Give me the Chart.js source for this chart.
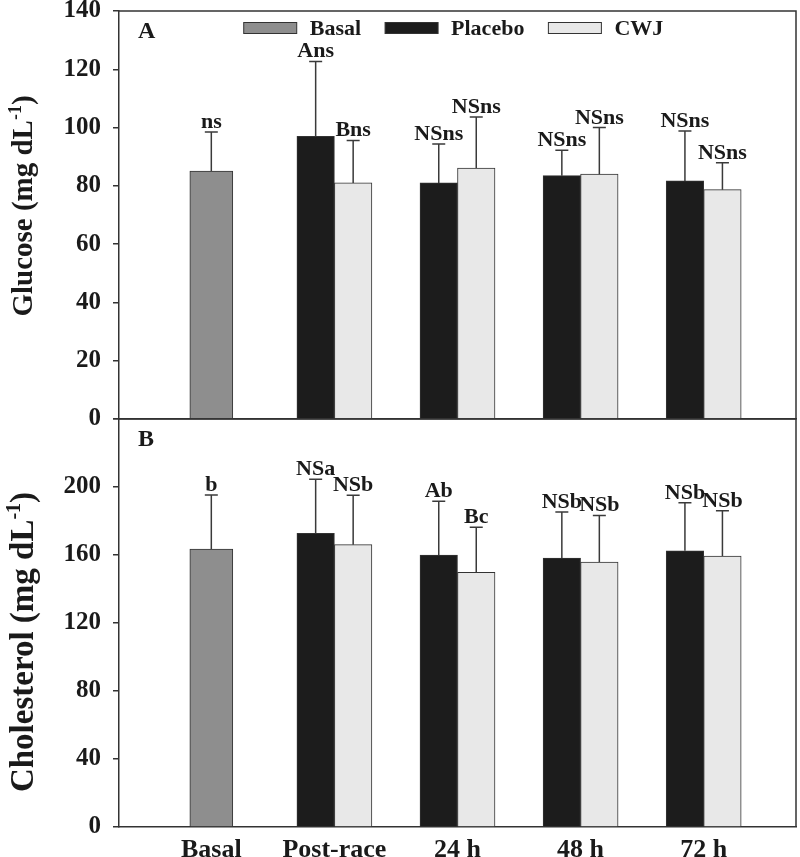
<!DOCTYPE html>
<html><head><meta charset="utf-8">
<script src="https://cdn.jsdelivr.net/npm/chart.js@4.4.0/dist/chart.umd.min.js"></script>
<style>
html,body{margin:0;padding:0;background:#fff;}
#wrap{position:relative;width:800px;height:857px;overflow:hidden;background:#fff;}
canvas{position:absolute;left:0;}
#c1{top:-20px;}
#c2{top:392px;}
</style></head><body>
<div id="wrap"><canvas id="c1" width="800" height="466"></canvas><canvas id="c2" width="800" height="465"></canvas></div>
<script>
// ---------- data ----------
const categories = ['Basal', 'Post-race', '24 h', '48 h', '72 h'];
const seriesNames = ['Basal', 'Placebo', 'CWJ'];

// Panel A: glucose (mg dL-1), mean and SD
const glucoseBasal      = [85.1, null, null, null, null];
const glucoseBasalSD    = [13.4, null, null, null, null];
const glucoseBasalSig   = ['ns', '', '', '', ''];
const glucosePlacebo    = [null, 97.0, 81.0, 83.5, 81.7];
const glucosePlaceboSD  = [null, 25.7, 13.4, 8.7, 17.1];
const glucosePlaceboSig = ['', 'Ans', 'NSns', 'NSns', 'NSns'];
const glucoseCWJ        = [null, 81.0, 86.1, 84.0, 78.7];
const glucoseCWJSD      = [null, 14.6, 17.5, 16.0, 9.2];
const glucoseCWJSig     = ['', 'Bns', 'NSns', 'NSns', 'NSns'];
const glucoseTicks      = [0, 20, 40, 60, 80, 100, 120, 140];

// Panel B: cholesterol (mg dL-1), mean and SD
const cholBasal      = [163.5, null, null, null, null];
const cholBasalSD    = [31.8, null, null, null, null];
const cholBasalSig   = ['b', '', '', '', ''];
const cholPlacebo    = [null, 172.7, 160.0, 158.2, 162.5];
const cholPlaceboSD  = [null, 31.8, 31.6, 27.1, 28.3];
const cholPlaceboSig = ['', 'NSa', 'Ab', 'NSb', 'NSb'];
const cholCWJ        = [null, 166.1, 149.8, 155.9, 159.4];
const cholCWJSD      = [null, 29.0, 26.5, 27.4, 26.7];
const cholCWJSig     = ['', 'NSb', 'Bc', 'NSb', 'NSb'];
const cholTicks      = [0, 40, 80, 120, 160, 200];

// ---------- styling ----------
const FONT = "'Liberation Serif', 'Times New Roman', serif";
const INK = '#1a1a1a';
const AXIS = '#333333';
const COLORS = ['#8e8e8e', '#1c1c1c', '#e8e8e8'];
const THICK = [43, 37.5, 37.5];

Chart.defaults.font.family = FONT;
Chart.defaults.font.weight = 'bold';
Chart.defaults.color = INK;

function makeDataset(idx, means, sds, marks) {
  return {
    label: seriesNames[idx],
    data: categories.map((c, i) => ({ x: i, y: means[i] })),
    sd: sds,
    marks: marks,
    backgroundColor: COLORS[idx],
    borderColor: AXIS,
    borderWidth: 1,
    barThickness: THICK[idx],
    skipNull: true,
    grouped: true
  };
}

function panelPlugin(o) {
  return {
    id: 'panelDecor',
    afterDatasetsDraw(chart) {
      const ctx = chart.ctx, ys = chart.scales.y, a = chart.chartArea;
      ctx.save();
      // error bars + significance letters
      chart.data.datasets.forEach((ds, di) => {
        const meta = chart.getDatasetMeta(di);
        meta.data.forEach((el, j) => {
          const m = ds.data[j].y, sd = ds.sd[j];
          if (m == null || sd == null) return;
          const yt = ys.getPixelForValue(m + sd);
          ctx.strokeStyle = '#3a3a3a';
          ctx.lineWidth = 1.5;
          ctx.beginPath();
          ctx.moveTo(el.x, el.y); ctx.lineTo(el.x, yt);
          ctx.moveTo(el.x - 6.5, yt); ctx.lineTo(el.x + 6.5, yt);
          ctx.stroke();
          ctx.fillStyle = INK;
          ctx.font = 'bold 22px ' + FONT;
          ctx.textAlign = 'center';
          ctx.textBaseline = 'alphabetic';
          ctx.fillText(ds.marks[j], el.x, yt - 4);
        });
      });
      // top & right frame
      ctx.strokeStyle = AXIS; ctx.lineWidth = 1.5;
      ctx.beginPath();
      ctx.moveTo(a.left, a.top); ctx.lineTo(a.right, a.top); ctx.lineTo(a.right, a.bottom);
      ctx.stroke();
      // panel letter
      ctx.fillStyle = INK;
      ctx.font = 'bold 24px ' + FONT;
      ctx.textAlign = 'left'; ctx.textBaseline = 'alphabetic';
      ctx.fillText(o.letter, a.left + 19, a.top + 27);
      // y title with superscript
      ctx.save();
      ctx.translate(o.titleX, o.titleY);
      ctx.rotate(-Math.PI / 2);
      const f1 = 'bold ' + o.titleSize + 'px ' + FONT, f2 = 'bold ' + Math.round(o.titleSize * 0.62) + 'px ' + FONT;
      ctx.font = f1; const w1 = ctx.measureText(o.title).width; const w3 = ctx.measureText(')').width;
      ctx.font = f2; const w2 = ctx.measureText('-1').width;
      let x = -(w1 + w2 + w3) / 2;
      ctx.textAlign = 'left'; ctx.textBaseline = 'alphabetic';
      ctx.font = f1; ctx.fillText(o.title, x, 0); x += w1;
      ctx.font = f2; ctx.fillText('-1', x, -o.titleSize * 0.38); x += w2;
      ctx.font = f1; ctx.fillText(')', x, 0);
      ctx.restore();
      // legend
      if (o.legend) {
        ctx.font = 'bold 22px ' + FONT;
        const boxW = 53, boxH = 11, gap = 13, sep = 24;
        const items = chart.data.datasets.map(d => ({ t: d.label, c: d.backgroundColor, w: ctx.measureText(d.label).width }));
        const total = items.reduce((s, it) => s + boxW + gap + it.w, 0) + sep * (items.length - 1);
        let lx = (a.left + a.right) / 2 - 4 - total / 2;
        const ly = a.top + 17;
        items.forEach(it => {
          ctx.fillStyle = it.c;
          ctx.fillRect(lx, ly - boxH / 2, boxW, boxH);
          ctx.strokeStyle = AXIS; ctx.lineWidth = 1;
          ctx.strokeRect(lx, ly - boxH / 2, boxW, boxH);
          ctx.fillStyle = INK;
          ctx.textAlign = 'left'; ctx.textBaseline = 'middle';
          ctx.fillText(it.t, lx + boxW + gap, ly + 1);
          lx += boxW + gap + it.w + sep;
        });
      }
      ctx.restore();
    }
  };
}

function makeChart(id, datasets, yMax, ticks, showX, xHeight, padTop, plugOpts) {
  return new Chart(document.getElementById(id), {
    type: 'bar',
    data: { datasets },
    options: {
      responsive: false,
      animation: false,
      events: [],
      layout: { padding: { top: padTop, right: 4, left: 0, bottom: 0 } },
      plugins: { legend: { display: false }, tooltip: { enabled: false } },
      scales: {
        x: {
          type: 'linear', min: -0.75, max: 4.75, offset: false,
          afterBuildTicks: s => { s.ticks = categories.map((c, i) => ({ value: i })); },
          afterFit: s => { s.height = xHeight; },
          ticks: { display: showX, padding: 0, color: INK, font: { size: 26, weight: 'bold', family: FONT },
                   callback: v => categories[v] ?? '' },
          grid: { display: false },
          border: { display: true, color: AXIS, width: 1.5 }
        },
        y: {
          min: 0, max: yMax,
          afterBuildTicks: s => { s.ticks = ticks.concat(yMax > ticks[ticks.length - 1] ? [yMax] : []).map(v => ({ value: v })); },
          afterFit: s => { s.width = 119; },
          ticks: { padding: 12, color: INK, font: { size: 25, weight: 'bold', family: FONT },
                   callback: v => ticks.includes(v) ? String(v) : '' },
          grid: { drawOnChartArea: false, drawTicks: true, tickLength: 6, color: AXIS, lineWidth: 1.5 },
          border: { display: true, color: AXIS, width: 1.5 }
        }
      }
    },
    plugins: [panelPlugin(plugOpts)]
  });
}

makeChart('c1', [
  makeDataset(0, glucoseBasal, glucoseBasalSD, glucoseBasalSig),
  makeDataset(1, glucosePlacebo, glucosePlaceboSD, glucosePlaceboSig),
  makeDataset(2, glucoseCWJ, glucoseCWJSD, glucoseCWJSig)
], 140, glucoseTicks, false, 27, 31, { letter: 'A', title: 'Glucose (mg dL', titleX: 32, titleY: 226, titleSize: 29, legend: true });

makeChart('c2', [
  makeDataset(0, cholBasal, cholBasalSD, cholBasalSig),
  makeDataset(1, cholPlacebo, cholPlaceboSD, cholPlaceboSig),
  makeDataset(2, cholCWJ, cholCWJSD, cholCWJSig)
], 240, cholTicks, true, 30, 27, { letter: 'B', title: 'Cholesterol (mg dL', titleX: 33, titleY: 250, titleSize: 33, legend: false });
</script>
</body></html>
